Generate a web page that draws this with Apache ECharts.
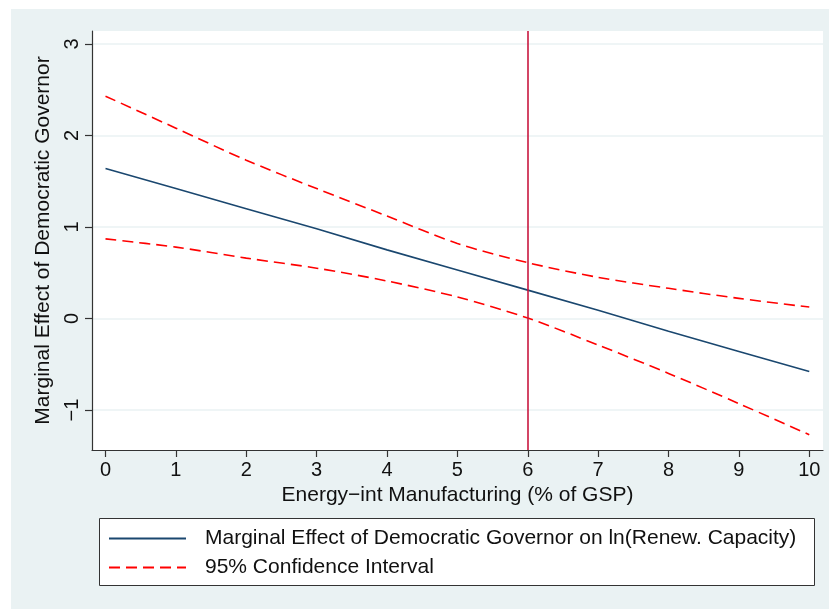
<!DOCTYPE html>
<html>
<head>
<meta charset="utf-8">
<script src="https://cdn.jsdelivr.net/npm/echarts@6/dist/echarts.min.js"></script>
<style>
html,body{margin:0;padding:0;background:#fff;}
#c{width:829px;height:609px;}
</style>
</head>
<body>
<div id="c"></div>
<script>
const xValues = [0,1,2,3,4,5,6,7,8,9,10];
const marginalEffect = [1.64,1.42,1.20,0.98,0.75,0.53,0.31,0.09,-0.14,-0.36,-0.58];
const upperCI = [2.43,2.08,1.73,1.42,1.12,0.82,0.61,0.45,0.33,0.22,0.125];
const lowerCI = [0.87,0.78,0.66,0.55,0.41,0.235,0.005,-0.29,-0.60,-0.93,-1.27];
const xTicks = [0,1,2,3,4,5,6,7,8,9,10];
const yTicks = [-1,0,1,2,3];
const refLineX = 6;

const pairs = (ys) => xValues.map((x,i)=>[x, ys[i]]);
const font = 'Liberation Sans, Arial, Helvetica, sans-serif';

const chart = echarts.init(document.getElementById('c'), null, {renderer:'canvas'});
chart.setOption({
  animation:false,
  backgroundColor:'#ffffff',
  graphic:[
    {type:'rect', z:-10, shape:{x:11,y:9,width:818,height:600}, style:{fill:'#EAF2F3'}},
    {type:'rect', z:-9, shape:{x:92,y:31,width:731,height:419}, style:{fill:'#ffffff'}},
    {type:'rect', z:1, shape:{x:99.5,y:518.5,width:715,height:67}, style:{fill:'#ffffff', stroke:'#333', lineWidth:1}}
  ],
  grid:{left:92, top:31, width:731, height:419, containLabel:false},
  xAxis:{
    type:'value', min:-0.192, max:10.195,
    name:'Energy\u2212int Manufacturing (% of GSP)',
    nameLocation:'middle', nameGap:35,
    nameTextStyle:{fontFamily:font, fontSize:21, color:'#111'},
    axisLine:{show:true, onZero:false, lineStyle:{color:'#333', width:1.2}},
    axisTick:{show:true, length:7, customValues:xTicks, lineStyle:{color:'#333', width:1.2}},
    axisLabel:{customValues:xTicks, fontFamily:font, fontSize:20, color:'#111', margin:10},
    splitLine:{show:false}
  },
  yAxis:{
    type:'value', min:-1.437, max:3.142,
    name:'Marginal Effect of Democratic Governor',
    nameLocation:'middle', nameGap:33,
    nameTextStyle:{fontFamily:font, fontSize:21, color:'#111'},
    axisLine:{show:true, onZero:false, lineStyle:{color:'#333', width:1.2}},
    axisTick:{show:true, length:7, customValues:yTicks, lineStyle:{color:'#333', width:1.2}},
    axisLabel:{customValues:yTicks, rotate:90, fontFamily:font, fontSize:20, color:'#111', margin:10,
      formatter:(v)=>String(v).replace('-', '\u2212')},
    splitLine:{show:true, lineStyle:{color:'#EAF2F3', width:1.5}}
  },
  legend:{
    orient:'vertical', left:108, top:528, padding:0,
    itemWidth:77, itemHeight:20, itemGap:8,
    itemStyle:{opacity:0},
    textStyle:{fontFamily:font, fontSize:21, lineHeight:20, color:'#111', padding:[0,0,0,14]},
    data:[
      {name:'Marginal Effect of Democratic Governor on ln(Renew. Capacity)'},
      {name:'95% Confidence Interval'}
    ],
    z:10
  },
  series:[
    {
      name:'Marginal Effect of Democratic Governor on ln(Renew. Capacity)',
      type:'line', data:pairs(marginalEffect), symbol:'none',
      lineStyle:{color:'#1A476F', width:1.6}, itemStyle:{color:'#1A476F'},
      z:3,
      markLine:{
        silent:true, symbol:['none','none'], label:{show:false},
        lineStyle:{color:'#C8173F', width:1.6, type:'solid'},
        data:[{xAxis:refLineX}]
      }
    },
    {
      name:'95% Confidence Interval',
      type:'line', data:pairs(upperCI), symbol:'none', smooth:0.3,
      lineStyle:{color:'#FF0000', width:1.6, type:[11,6]}, itemStyle:{color:'#FF0000'}
    },
    {
      name:'95% Confidence Interval',
      type:'line', data:pairs(lowerCI), symbol:'none', smooth:0.3,
      lineStyle:{color:'#FF0000', width:1.6, type:[11,6]}, itemStyle:{color:'#FF0000'}
    }
  ]
});
</script>
</body>
</html>
